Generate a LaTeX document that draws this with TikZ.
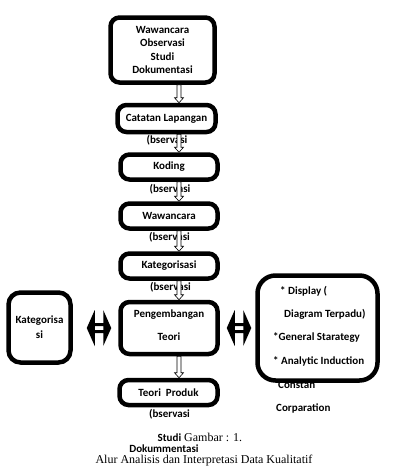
\documentclass[tikz,border=0pt]{standalone}
\usepackage{fontspec}
\setmainfont{Liberation Serif}
\newfontfamily\carl{Carlito}
\usetikzlibrary{calc}
\tikzset{
  box/.style={draw=black, line width=4.5pt, rounded corners=9pt, fill=white, inner sep=0pt, align=center,
    font=\carl\bfseries\fontsize{11}{13.5}\selectfont},
  lbl/.style={inner sep=0pt, font=\carl\bfseries\fontsize{11}{13}\selectfont},
  varrow/.style={draw=black, line width=0.6pt, fill=white,
    to path={let \p1=(\tikztostart), \p2=(\tikztotarget) in
      (\x1-2pt,\y1) -- (\x1-2pt,\y2+5pt) -- (\x1-4.5pt,\y2+5pt) -- (\x1,\y2) -- (\x1+4.5pt,\y2+5pt) -- (\x1+2pt,\y2+5pt) -- (\x1+2pt,\y1) -- cycle}},
  harrow/.style={fill=black, even odd rule,
    to path={let \p1=(\tikztostart), \p2=(\tikztotarget) in
      (\x1,\y1) -- (\x1+8pt,\y1+18pt) -- (\x1+8pt,\y1+5pt) -- (\x2-8pt,\y1+5pt) -- (\x2-8pt,\y1+18pt) -- (\x2,\y1)
      -- (\x2-8pt,\y1-18pt) -- (\x2-8pt,\y1-5pt) -- (\x1+8pt,\y1-5pt) -- (\x1+8pt,\y1-18pt) -- cycle
      (\x1+8pt,\y1+2pt) rectangle (\x2-8pt,\y1-2pt)}}
}
\begin{document}
\begin{tikzpicture}[x=1pt,y=-1pt]
\useasboundingbox (0,0) rectangle (400,466);
\fill[white] (0,0) rectangle (400,466);

% labels under arrows
\node[lbl] (o1) at (167,140) {(bservasi};
\node[lbl] (o2) at (170,189) {(bservasi};
\node[lbl] (o3) at (169.5,237) {(bservasi};
\node[lbl] (o4) at (170.5,287) {(bservasi};
\node[lbl] (o5) at (169.5,414) {(bservasi};
\node[lbl, anchor=west] (cons) at (278,385) {Constan};
\node[lbl, anchor=west] (corp) at (276,408) {Corparation};

\coordinate (ax) at (179,0);

% boxes
\node[box, minimum width=104pt, minimum height=65pt] (top) at (162.5,50) {Wawancara\\Observasi\\Studi\\Dokumentasi};
\node[box, minimum width=98pt, minimum height=27pt] (cat) at (166.5,118.5) {Catatan Lapangan};
\node[box, minimum width=97pt, minimum height=25pt] (kod) at (169,167) {Koding};
\node[box, minimum width=97pt, minimum height=25pt] (waw) at (169,216) {Wawancara};
\node[box, minimum width=97pt, minimum height=25pt] (kat) at (169,266) {Kategorisasi};
\node[box, minimum width=97pt, minimum height=52pt, text depth=6pt] (peng) at (169,328) {Pengembangan\\[10pt]Teori};
\node[box, minimum width=98pt, minimum height=25pt] (teo) at (168.5,392.5) {Teori\ \ Produk};
\node[box, minimum width=62pt, minimum height=70pt, rounded corners=12pt, font=\carl\bfseries\fontsize{11}{15}\selectfont] (kl) at (39.5,327.5) {Kategorisa\\si};
\node[box, minimum width=120pt, minimum height=105pt, rounded corners=18pt] (rb) at (317.5,328) {};
\node[lbl, anchor=west, align=left, font=\carl\bfseries\fontsize{11}{23.3}\selectfont] (rbt) at (273,326)
  {\hspace*{7pt}* Display (\\\hspace*{11pt}Diagram Terpadu)\\{}*General Starategy\\{}* Analytic Induction};

% vertical arrows
\draw[varrow] (top.south -| ax) to (cat.north -| ax);
\draw[varrow] (cat.south -| ax) to (kod.north -| ax);
\draw[varrow] (kod.south -| ax) to (waw.north -| ax);
\draw[varrow] (waw.south -| ax) to (kat.north -| ax);
\draw[varrow] (kat.south -| ax) to (peng.north -| ax);
\draw[varrow] (peng.south -| ax) to (teo.north -| ax);

% double arrows
\path[harrow] ([xshift=14pt]kl.east |- peng.west) to ([xshift=-7pt]peng.west);
\path[harrow] ([xshift=7pt]peng.east) to ([xshift=-4pt]rb.west |- peng.east);

% caption
\node[inner sep=0pt, anchor=west, font=\fontsize{12}{14}\selectfont] (cap1) at (157.5,437) {{\carl\bfseries\fontsize{11}{13}\selectfont Studi} Gambar : 1.};
\node[lbl] (cap2) at (164,448.5) {Dokummentasi};
\node[inner sep=0pt, font=\fontsize{12}{14}\selectfont] (cap3) at (204,461) {Alur Analisis dan Interpretasi Data Kualitatif};
\end{tikzpicture}
\end{document}
